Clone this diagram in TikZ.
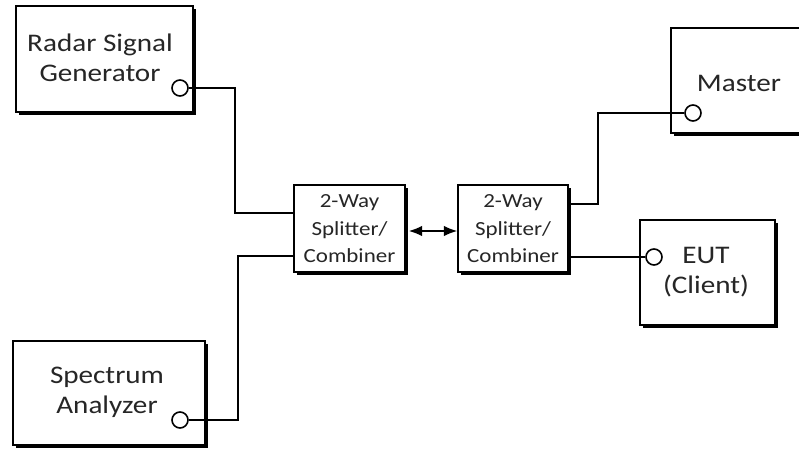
\documentclass[tikz,border=0pt]{standalone}
\usepackage{fontspec}
\setmainfont[FakeStretch=1.15]{Carlito}
\usetikzlibrary{shadows,arrows.meta}

\tikzset{every picture/.style={line width=0.75pt}}
\tikzset{
	unitbox/.style={draw, line width=1.3pt, fill=white, inner sep=0pt,
		drop shadow={shadow xshift=2.2pt, shadow yshift=-2.2pt, fill=black, opacity=1}},
	port/.style={circle, draw, line width=1.2pt, fill=white, minimum size=12pt, inner sep=0pt},
	wire/.style={line width=1.1pt},
	bigtext/.style={align=center, font=\fontsize{19}{22.5}\selectfont, text=black!85},
	smalltext/.style={align=center, font=\fontsize{15}{20.6}\selectfont, text=black!85}}

\begin{document}
\begin{tikzpicture}[x=0.75pt,y=0.75pt,yscale=-1,xscale=1]
	\useasboundingbox (0,0) rectangle (799,449);

	%Shape: Rectangle [id:radar]
	\node [unitbox, minimum width={177*0.75pt}, minimum height={106*0.75pt}] (radar) at (104.5,59) {};
	%Shape: Rectangle [id:spec]
	\node [unitbox, minimum width={192*0.75pt}, minimum height={104*0.75pt}] (spec) at (109,393) {};
	%Shape: Rectangle [id:splitA]
	\node [unitbox, minimum width={111*0.75pt}, minimum height={87*0.75pt}] (splitA) at (349.5,228.5) {};
	%Shape: Rectangle [id:splitB]
	\node [unitbox, minimum width={110*0.75pt}, minimum height={87*0.75pt}] (splitB) at (513,228.5) {};
	%Shape: Rectangle [id:master]
	\node [unitbox, minimum width={159*0.75pt}, minimum height={105*0.75pt}] (master) at (750.5,80.5) {};
	%Shape: Rectangle [id:eut]
	\node [unitbox, minimum width={135*0.75pt}, minimum height={105*0.75pt}] (eut) at (707.5,272.5) {};

	% Text Node
	\node [bigtext] (radartxt) at (100,58) {Radar Signal\\Generator\hspace{13pt}};
	% Text Node
	\node [bigtext] (spectxt) at (107,392) {Spectrum\\Analyzer};
	% Text Node
	\node [smalltext] (splitAtxt) at (349.5,229) {2-Way\\Splitter/\\Combiner};
	% Text Node
	\node [smalltext] (splitBtxt) at (513,229) {2-Way\\Splitter/\\Combiner};
	% Text Node
	\node [bigtext] (mastertxt) at (739,83) {Master};
	% Text Node
	\node [bigtext] (euttxt) at (706,272) {EUT\\(Client)};

	%Shape: Circle
	\node [port] (rport) at (180,88) {};
	%Shape: Circle
	\node [port] (sport) at (180,420) {};
	%Shape: Circle
	\node [port] (mport) at (693,113) {};
	%Shape: Circle
	\node [port] (eport) at (654,257) {};

	%Straight Lines
	\draw [wire] (rport.east) -| (235,213) -- (splitA.west |- 0,213) ;
	\draw [wire] (sport.east) -| (238,256) -- (splitA.west |- 0,256) ;
	\draw [wire] (splitB.east |- 0,204) ++(2,0) -| (598,113) -- (mport.west) ;
	\draw [wire] (splitB.east |- 0,257) ++(2,0) -- (eport.west) ;
	\draw [wire, {Latex[length=10pt,width=8pt]}-{Latex[length=10pt,width=8pt]}] (splitA.east |- 0,231) ++(3,0) -- (splitB.west |- 0,231) ;

\end{tikzpicture}
\end{document}
